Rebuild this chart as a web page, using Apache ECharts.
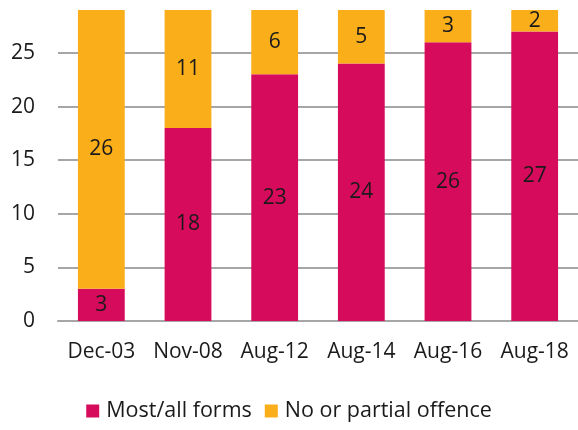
<!DOCTYPE html>
<html>
<head>
<meta charset="utf-8">
<script src="https://cdn.jsdelivr.net/npm/echarts@6/dist/echarts.min.js"></script>
<style>
  html, body { margin: 0; padding: 0; background: #fff; }
  #chart { width: 578px; height: 430px; }
</style>
</head>
<body>
<div id="chart"></div>
<script>
// Survey waves
const categories = ['Dec-03', 'Nov-08', 'Aug-12', 'Aug-14', 'Aug-16', 'Aug-18'];
// Number of jurisdictions per group
const mostAllForms = [3, 18, 23, 24, 26, 27];
const noOrPartial = [26, 11, 6, 5, 3, 2];

const FONT = '"Open Sans", "Noto Sans", sans-serif';
const TEXT = '#1a1a1a';

const chart = echarts.init(document.getElementById('chart'), null, { renderer: 'canvas' });

const labelStyle = {
  show: true,
  position: 'inside',
  color: TEXT,
  fontSize: 21,
  fontFamily: FONT
};

chart.setOption({
  animation: false,
  grid: { left: 58, right: 0, top: 10, bottom: 109 },
  xAxis: {
    type: 'category',
    data: categories,
    axisTick: { show: false },
    axisLine: { lineStyle: { color: '#a6a6a6', width: 2 } },
    axisLabel: { color: TEXT, fontSize: 21, fontFamily: FONT, margin: 21, interval: 0, hideOverlap: false }
  },
  yAxis: {
    type: 'value',
    min: 0,
    max: 29,
    interval: 5,
    axisLine: { show: false },
    axisTick: { show: false },
    axisLabel: {
      color: TEXT, fontSize: 21, fontFamily: FONT, margin: 23,
      formatter: v => (v % 5 === 0 ? String(v) : '')
    },
    splitLine: { lineStyle: { color: ['#a6a6a6', '#a6a6a6', '#a6a6a6', '#a6a6a6', '#a6a6a6', '#a6a6a6', 'rgba(0,0,0,0)'], width: 2 } }
  },
  legend: {
    bottom: 3,
    left: 'center',
    itemWidth: 13,
    itemHeight: 13,
    itemGap: 13,
    icon: 'rect',
    textStyle: { color: TEXT, fontSize: 21.5, fontFamily: FONT, padding: [0, 0, 0, 2] },
    data: ['Most/all forms', 'No or partial offence']
  },
  series: [
    {
      name: 'Most/all forms',
      type: 'bar',
      stack: 'total',
      barWidth: '54%',
      data: mostAllForms,
      itemStyle: { color: '#d70b5c' },
      label: labelStyle
    },
    {
      name: 'No or partial offence',
      type: 'bar',
      stack: 'total',
      barWidth: '54%',
      data: noOrPartial,
      itemStyle: { color: '#f9ae1a' },
      label: labelStyle
    }
  ]
});
</script>
</body>
</html>
